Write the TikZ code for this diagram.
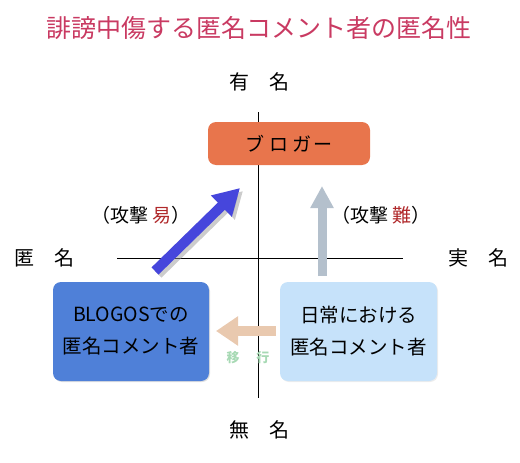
\documentclass[tikz,border=0pt]{standalone}
\usepackage{fontspec}
\setmainfont{Noto Sans CJK JP}
\usetikzlibrary{arrows.meta, positioning, shadows}
\definecolor{titlepink}{HTML}{C93A62}
\definecolor{bloggerorange}{HTML}{E8754C}
\definecolor{anonblue}{HTML}{4F80D8}
\definecolor{dailyblue}{HTML}{C6E2FA}
\definecolor{attackblue}{HTML}{4646DC}
\definecolor{attackgray}{HTML}{B4C0CC}
\definecolor{shiftbeige}{HTML}{E9C9AF}
\definecolor{shiftgreen}{HTML}{A7D9B4}
\definecolor{hardred}{HTML}{B0282A}
\tikzstyle{axis}      = [line width=1pt, black]
\tikzstyle{axislabel} = [font=\fontsize{20}{24}\selectfont, inner sep=1pt]
\tikzstyle{box}       = [rounded corners=8pt, align=center, inner sep=0pt, font=\fontsize{19.5}{32}\selectfont]
\tikzstyle{note}      = [font=\fontsize{19}{22}\selectfont, inner sep=1pt]
\tikzstyle{bigarrow}  = [line width=10pt, -{Triangle[length=26pt, width=28pt]}]

\begin{document}
\begin{tikzpicture}[x=1pt, y=-1pt]

    \useasboundingbox (0,0) rectangle (520,463);

    % title
    \node[font=\fontsize{25}{30}\selectfont, text=titlepink] (title) at (259,28) {誹謗中傷する匿名コメント者の匿名性};

    % axes
    \coordinate (top)    at (258,112);
    \coordinate (bottom) at (258,398);
    \coordinate (left)   at (117,258);
    \coordinate (right)  at (403,258);
    \draw[axis] (top) -- (bottom);
    \draw[axis] (left) -- (right);

    \node[axislabel] (known)   at (259,82)  {有\hspace{1em}名};
    \node[axislabel] (unknown) at (259,430) {無\hspace{1em}名};
    \node[axislabel] (anon)    at (45,258)  {匿\hspace{1em}名};
    \node[axislabel] (real)    at (478,258) {実\hspace{1em}名};

    % boxes
    \node[box, fill=bloggerorange, minimum width=162pt, minimum height=43pt, font=\fontsize{19}{22}\selectfont] (blogger) at (289,143.5) {ブ\hspace{0.25em}ロ\hspace{0.25em}ガ\hspace{0.1em}ー};
    \node[box, fill=anonblue, minimum width=156pt, minimum height=99pt, drop shadow={opacity=0.25, shadow xshift=1pt, shadow yshift=-1pt}] (blogos) at (131,331.5) {BLOGOSでの\\匿名コメント者};
    \node[box, fill=dailyblue, minimum width=157pt, minimum height=99pt, drop shadow={opacity=0.15, shadow xshift=1pt, shadow yshift=-1pt}] (daily) at (358.5,331.5) {日常における\\匿名コメント者};

    % arrows
    \coordinate (easytail) at (155,271);
    \coordinate (easytip)  at (240,188);
    \coordinate (hardtail) at (322,276);
    \coordinate (hardtip)  at (322,186);
    \coordinate (shifttail) at (276,331);
    \coordinate (shifttip)  at (216,331);

    \draw[bigarrow, black!40, opacity=0.5] ([shift={(3,3)}]easytail) -- ([shift={(3,3)}]easytip);
    \draw[bigarrow, attackblue] (easytail) -- (easytip);
    \draw[bigarrow, attackgray, line width=9pt, -{Triangle[length=22pt, width=22pt]}] (hardtail) -- (hardtip);
    \draw[bigarrow, shiftbeige, -{Triangle[length=22pt, width=28pt]}] (shifttail) -- (shifttip);

    % labels
    \node[note] (easy) at (141,215) {（攻撃 \textcolor{hardred}{易}）};
    \node[note] (hard) at (381,215) {（攻撃 \textcolor{hardred}{難}）};
    \node[font=\bfseries\fontsize{13}{15}\selectfont, text=shiftgreen] (shift) at (248,358) {移\hspace{1.3em}行};

\end{tikzpicture}
\end{document}
